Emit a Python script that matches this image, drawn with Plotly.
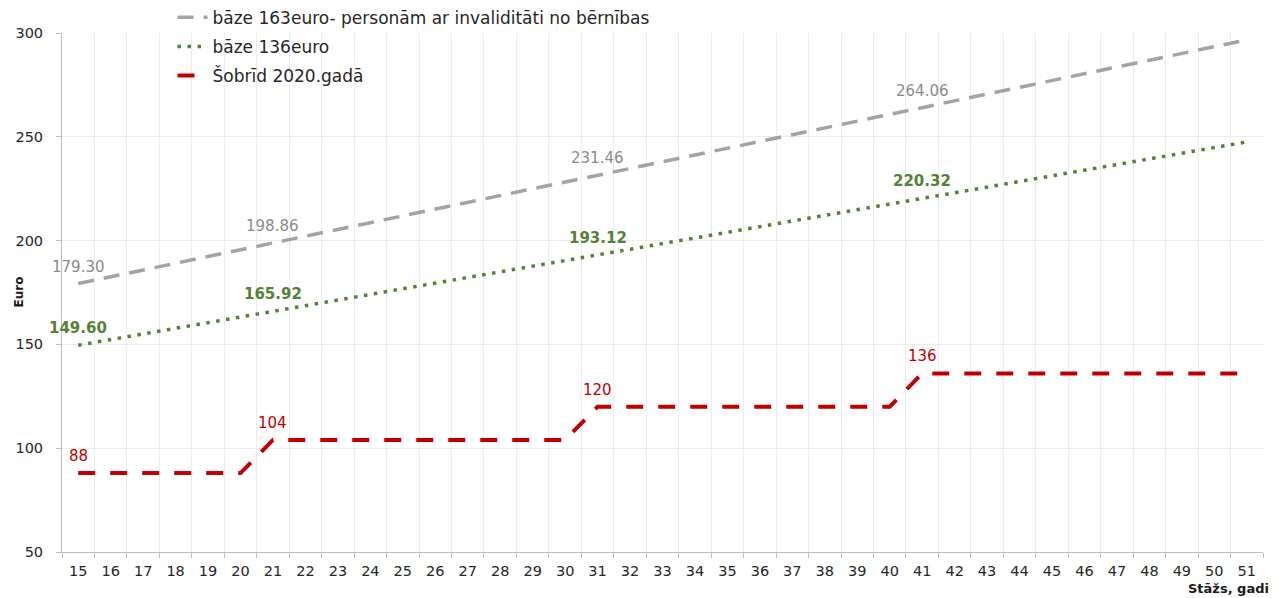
import plotly.graph_objects as go

stazs = [str(v) for v in range(15, 52)]

base163 = [179.30, 182.56, 185.82, 189.08, 192.34, 195.60, 198.86, 202.12, 205.38, 208.64,
           211.90, 215.16, 218.42, 221.68, 224.94, 228.20, 231.46, 234.72, 237.98, 241.24,
           244.50, 247.76, 251.02, 254.28, 257.54, 260.80, 264.06, 267.32, 270.58, 273.84,
           277.10, 280.36, 283.62, 286.88, 290.14, 293.40, 296.66]

base136 = [149.60, 152.32, 155.04, 157.76, 160.48, 163.20, 165.92, 168.64, 171.36, 174.08,
           176.80, 179.52, 182.24, 184.96, 187.68, 190.40, 193.12, 195.84, 198.56, 201.28,
           204.00, 206.72, 209.44, 212.16, 214.88, 217.60, 220.32, 223.04, 225.76, 228.48,
           231.20, 233.92, 236.64, 239.36, 242.08, 244.80, 247.52]

sobrid = [88, 88, 88, 88, 88, 88,
          104, 104, 104, 104, 104, 104, 104, 104, 104, 104,
          120, 120, 120, 120, 120, 120, 120, 120, 120, 120,
          136, 136, 136, 136, 136, 136, 136, 136, 136, 136, 136]

label_years = ["15", "21", "31", "41"]

names = ["bāze 163euro- personām ar invaliditāti no bērnības",
         "bāze 136euro",
         "Šobrīd 2020.gadā"]

FONT = "DejaVu Sans"
GRAY_LINE = "#a3a3a3"
GRAY_TXT = "#8a8a8a"
GREEN = "#548235"
RED = "#c00000"
TXT = "#262626"

fig = go.Figure()
fig.add_trace(go.Scatter(x=stazs, y=base163, mode="lines", name=names[0], legendgroup="a",
                         line=dict(color=GRAY_LINE, width=3.5, dash="16px,10px")))
fig.add_trace(go.Scatter(x=stazs, y=base136, mode="lines", name=names[1], legendgroup="b",
                         line=dict(color=GREEN, width=3.5, dash="3.5px,6.5px")))
fig.add_trace(go.Scatter(x=stazs, y=sobrid, mode="lines", name=names[2], legendgroup="c",
                         line=dict(color=RED, width=4, dash="17px,15px")))

annotations = []
for series, color, bold, fmt in [(base163, GRAY_TXT, False, "{:.2f}"),
                                 (base136, GREEN, True, "{:.2f}"),
                                 (sobrid, RED, False, "{:d}")]:
    for yr in label_years:
        i = stazs.index(yr)
        v = series[i]
        txt = fmt.format(v)
        if bold:
            txt = "<b>" + txt + "</b>"
        annotations.append(dict(x=i, y=v, xref="x", yref="y", text=txt, showarrow=False,
                                yshift=17, font=dict(family=FONT, size=15, color=color)))

annotations.append(dict(x=1, y=-0.071, xref="paper", yref="paper", xanchor="right",
                        yanchor="middle", xshift=8, showarrow=False,
                        text="<b>Stāžs, gadi</b>",
                        font=dict(family=FONT, size=13, color="#1a1a1a")))
annotations.append(dict(x=0, y=0.5, xref="paper", yref="paper", xanchor="center",
                        yanchor="middle", xshift=-44, showarrow=False, textangle=-90,
                        text="<b>Euro</b>",
                        font=dict(family=FONT, size=12, color="#1a1a1a")))

fig.update_layout(
    width=1280, height=598,
    margin=dict(l=54, r=25, t=25, b=54, autoexpand=False),
    paper_bgcolor="white", plot_bgcolor="white",
    font=dict(family=FONT, size=13, color=TXT),
    annotations=annotations,
    showlegend=True,
    legend=dict(x=0.092, y=1.064, xanchor="left", yanchor="top", traceorder="grouped",
                tracegroupgap=4, bgcolor="rgba(0,0,0,0)",
                font=dict(family=FONT, size=17, color=TXT)),
    xaxis=dict(type="category", tickson="boundaries", range=[-0.5, 36.5], automargin=False,
               showgrid=True, gridcolor="#ececec",
               gridwidth=1, showline=True, linecolor="#bfbfbf", linewidth=1,
               ticks="outside", ticklen=5, tickcolor="#bfbfbf", ticklabelstandoff=6,
               tickfont=dict(family=FONT, size=14.5, color=TXT), zeroline=False),
    yaxis=dict(range=[50, 300], dtick=50, automargin=False, showgrid=True,
               gridcolor="#ececec", gridwidth=1,
               showline=True, linecolor="#bfbfbf", linewidth=1,
               ticks="outside", ticklen=5, tickcolor="#bfbfbf", ticklabelstandoff=10,
               tickfont=dict(family=FONT, size=14.5, color=TXT), zeroline=False),
)

fig.write_html("out.html")
